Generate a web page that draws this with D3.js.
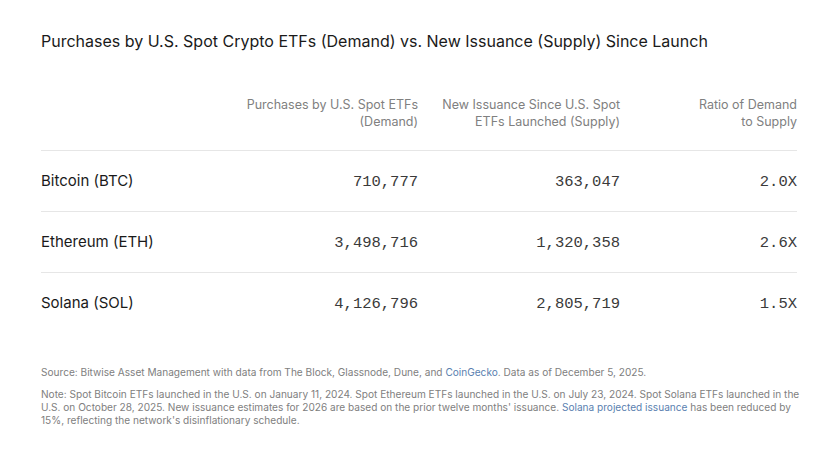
<!DOCTYPE html>
<html><head><meta charset="utf-8">
<script src="https://cdn.jsdelivr.net/npm/d3@7"></script>
<style>body{margin:0;background:#fff}</style>
</head><body>
<div id="chart"></div>
<script>
// ----- dati della tabella
var assets = ["Bitcoin (BTC)", "Ethereum (ETH)", "Solana (SOL)"];
var demand = [710777, 3498716, 4126796];
var supply = [363047, 1320358, 2805719];
var ratio = [2.0, 2.6, 1.5];
var headers = [
    ["Purchases by U.S. Spot ETFs", "(Demand)"],
    ["New Issuance Since U.S. Spot", "ETFs Launched (Supply)"],
    ["Ratio of Demand", "to Supply"]
];

var w = 828, h = 450;
var sans = "Inter, 'Open Sans', sans-serif";
var mono = "'Liberation Mono', 'DejaVu Sans Mono', monospace";

var svg = d3.select('#chart').append('svg').attr('width', w).attr('height', h);

svg.append('text').attr('x', 41).attr('y', 47)
    .attr('font-family', sans).attr('font-size', 16).attr('fill', '#1a1a1a')
    .text("Purchases by U.S. Spot Crypto ETFs (Demand) vs. New Issuance (Supply) Since Launch");

// ----- colonne e righe
var colX = [418, 620, 797];
var y = d3.scaleBand().domain(assets).range([150, 333]);

headers.forEach(function (hd, i) {
    hd.forEach(function (line, j) {
        svg.append('text').attr('x', colX[i]).attr('y', 109 + j * 17)
            .attr('text-anchor', 'end').attr('font-family', sans)
            .attr('font-size', 12.5).attr('fill', '#808080').text(line);
    });
});

svg.selectAll('line.div').data(assets).enter().append('line')
    .attr('x1', 41).attr('x2', 797)
    .attr('y1', function (d) { return y(d) + 0.5; }).attr('y2', function (d) { return y(d) + 0.5; })
    .attr('stroke', '#e6e6e6');

var fmt = d3.format(',');
var rows = svg.selectAll('g.row').data(assets).enter().append('g')
    .attr('transform', function (d) { return 'translate(0,' + (y(d) + y.bandwidth() / 2 + 5) + ')'; });

rows.append('text').attr('x', 41).attr('font-family', sans).attr('font-size', 15)
    .attr('fill', '#1a1a1a').text(function (d) { return d; });

var cells = [
    function (d, i) { return fmt(demand[i]); },
    function (d, i) { return fmt(supply[i]); },
    function (d, i) { return ratio[i].toFixed(1) + 'X'; }
];
cells.forEach(function (f, c) {
    rows.append('text').attr('x', colX[c]).attr('text-anchor', 'end')
        .attr('font-family', mono).attr('font-size', 15.5).attr('fill', '#3a3a3a')
        .text(f);
});

// ----- note a piè di pagina
var grey = '#808080', link = '#5a7fb0';
function footLine(yy, parts) {
    var t = svg.append('text').attr('x', 41).attr('y', yy)
        .attr('font-family', sans).attr('font-size', 10.1).attr('fill', grey);
    parts.forEach(function (p) {
        t.append('tspan').attr('fill', p[1] ? link : grey).text(p[0]);
    });
}
footLine(376, [["Source: Bitwise Asset Management with data from The Block, Glassnode, Dune, and "], ["CoinGecko", 1], [". Data as of December 5, 2025."]]);
footLine(398, [["Note: Spot Bitcoin ETFs launched in the U.S. on January 11, 2024. Spot Ethereum ETFs launched in the U.S. on July 23, 2024. Spot Solana ETFs launched in the"]]);
footLine(411, [["U.S. on October 28, 2025. New issuance estimates for 2026 are based on the prior twelve months' issuance. "], ["Solana projected issuance", 1], [" has been reduced by"]]);
footLine(424, [["15%, reflecting the network's disinflationary schedule."]]);
</script>
</body></html>
